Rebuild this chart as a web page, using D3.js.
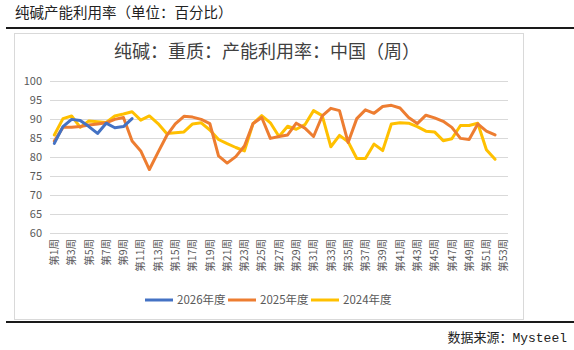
<!DOCTYPE html>
<html>
<head>
<meta charset="utf-8">
<script src="https://cdn.jsdelivr.net/npm/d3@7"></script>
<style>
  body { margin: 0; background: #fff; }
  svg { display: block; font-family: "Noto Sans CJK SC", "Noto Sans", sans-serif; }
</style>
</head>
<body>
<div id="chartVis"></div>
<script>
// data
var weeks = d3.range(1, 54).map(function(i) { return "第" + i + "周"; });
var yTicks = [60, 65, 70, 75, 80, 85, 90, 95, 100];
var seriesNames = ["2026年度", "2025年度", "2024年度"];
var seriesColors = ["#4472C4", "#ED7D31", "#FFC000"];

var values2026 = [83.6, 88.0, 89.9, 89.6, 88.0, 86.2, 88.9, 87.7, 88.0, 90.1];
var values2025 = [84.2, 87.8, 87.8, 88.0, 88.4, 88.7, 89.0, 89.9, 90.4, 84.2,
  81.6, 76.7, 81.2, 85.6, 88.7, 90.7, 90.5, 89.9, 88.8, 80.3,
  78.4, 80.1, 82.9, 88.8, 90.4, 84.9, 85.4, 85.8, 88.9, 87.6,
  85.4, 90.8, 92.8, 92.2, 83.8, 90.1, 92.4, 91.5, 93.3, 93.6,
  92.9, 90.4, 88.8, 91.0, 90.3, 89.4, 87.8, 84.9, 84.6, 88.7,
  86.8, 85.8];
var values2024 = [85.8, 90.1, 90.8, 87.8, 89.5, 89.3, 89.1, 90.8, 91.3, 91.9,
  89.7, 90.8, 88.8, 86.2, 86.4, 86.6, 88.7, 89.0, 87.1, 84.6,
  83.5, 82.5, 81.6, 88.8, 90.9, 89.0, 85.4, 88.1, 87.3, 88.5,
  92.2, 90.9, 82.7, 85.7, 84.0, 79.6, 79.6, 83.4, 81.7, 88.7,
  89.0, 88.9, 88.0, 86.8, 86.6, 84.3, 84.8, 88.3, 88.3, 88.9,
  81.9, 79.4];

var width = 574;
var height = 350;

var svg = d3.select("#chartVis")
  .append("svg")
  .attr("width", width)
  .attr("height", height);

// page heading + rules
svg.append("text")
  .attr("x", 15)
  .attr("y", 18)
  .attr("font-size", 14.5)
  .attr("fill", "#222")
  .text("纯碱产能利用率（单位：百分比）");

svg.append("line")
  .attr("x1", 6).attr("x2", 574)
  .attr("y1", 28).attr("y2", 28)
  .attr("stroke", "#1a1a1a").attr("stroke-width", 2);

svg.append("line")
  .attr("x1", 6).attr("x2", 574)
  .attr("y1", 322).attr("y2", 322)
  .attr("stroke", "#1a1a1a").attr("stroke-width", 2);

// chart frame
svg.append("rect")
  .attr("x", 14.5).attr("y", 33.5)
  .attr("width", 509).attr("height", 286)
  .attr("fill", "#fff")
  .attr("stroke", "#d9d9d9");

svg.append("text")
  .attr("x", 267)
  .attr("y", 58)
  .attr("text-anchor", "middle")
  .attr("font-size", 18)
  .attr("fill", "#404040")
  .text("纯碱：重质：产能利用率：中国（周）");

// scales
var x = d3.scalePoint()
  .domain(weeks)
  .range([50, 508])
  .padding(0.5);

var y = d3.scaleLinear()
  .domain([60, 100])
  .range([233, 81]);

// grid
svg.append("g")
  .selectAll("line")
  .data(yTicks)
  .enter()
  .append("line")
  .attr("x1", 50).attr("x2", 508)
  .attr("y1", d => Math.round(y(d)) + 0.5)
  .attr("y2", d => Math.round(y(d)) + 0.5)
  .attr("stroke", "#d9d9d9");

// y labels
svg.append("g")
  .selectAll("text")
  .data(yTicks)
  .enter()
  .append("text")
  .attr("x", 42)
  .attr("y", d => y(d))
  .attr("dy", "0.35em")
  .attr("text-anchor", "end")
  .attr("font-size", 11)
  .attr("fill", "#595959")
  .text(d => d);

// x labels, every other week
svg.append("g")
  .selectAll("text")
  .data(weeks.filter((d, i) => i % 2 === 0))
  .enter()
  .append("text")
  .attr("transform", d => "translate(" + x(d) + ",239) rotate(-90)")
  .attr("dy", "0.35em")
  .attr("text-anchor", "end")
  .attr("font-size", 10.5)
  .attr("fill", "#595959")
  .text(d => d);

// lines (draw oldest first so 2026 sits on top)
var allSeries = [values2026, values2025, values2024];
var line = d3.line()
  .x((d, i) => x(weeks[i]))
  .y(d => y(d));

[2, 1, 0].forEach(function(k) {
  svg.append("path")
    .datum(allSeries[k])
    .attr("d", line)
    .attr("fill", "none")
    .attr("stroke", seriesColors[k])
    .attr("stroke-width", 3)
    .attr("stroke-linejoin", "round")
    .attr("stroke-linecap", "round");
});

// legend
var legendX = [145, 228, 311];
var legend = svg.append("g")
  .selectAll("g")
  .data(seriesNames)
  .enter()
  .append("g")
  .attr("transform", (d, i) => "translate(" + legendX[i] + ",300)");

legend.append("line")
  .attr("x1", 0).attr("x2", 28)
  .attr("stroke", (d, i) => seriesColors[i])
  .attr("stroke-width", 3);

legend.append("text")
  .attr("x", 32)
  .attr("dy", "0.35em")
  .attr("font-size", 11.5)
  .attr("fill", "#595959")
  .text(d => d);

// source
svg.append("text")
  .attr("x", 567)
  .attr("y", 342)
  .attr("text-anchor", "end")
  .attr("font-size", 13)
  .attr("font-family", "'Liberation Mono', 'Noto Sans CJK SC', monospace")
  .attr("fill", "#222")
  .text("数据来源：Mysteel");
</script>
</body>
</html>
